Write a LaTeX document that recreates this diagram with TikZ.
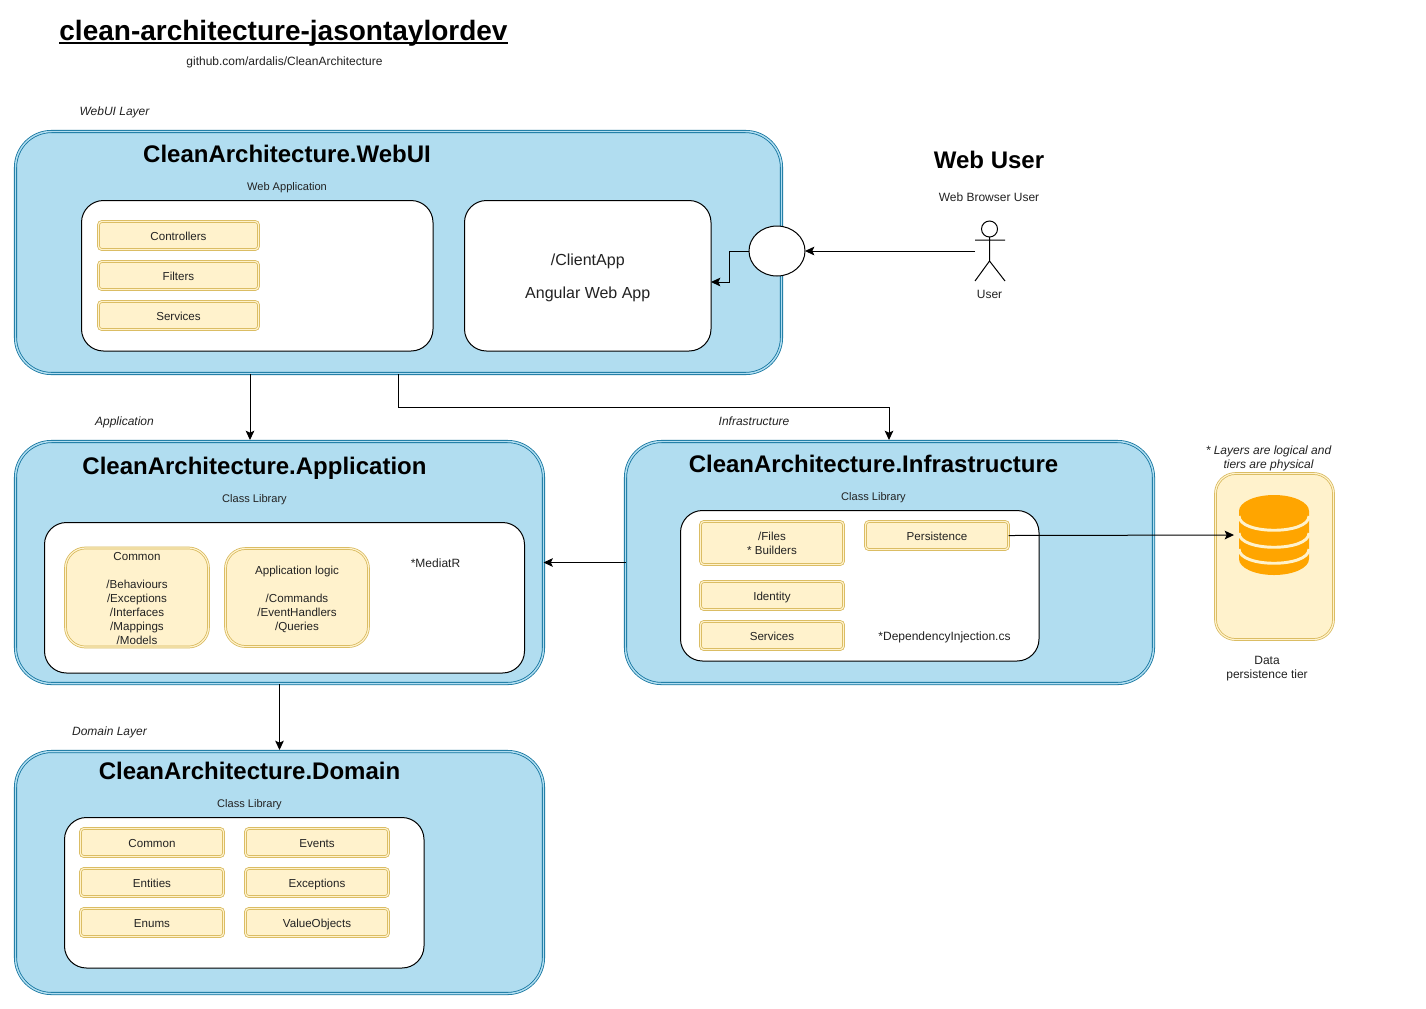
\documentclass[tikz,border=0pt]{standalone}
\usepackage{fontspec}
\setmainfont{Liberation Sans}
\usetikzlibrary{arrows.meta,calc,shapes.geometric}
\definecolor{layerfill}{HTML}{B1DDF0}
\definecolor{layerline}{HTML}{10739E}
\definecolor{boxfill}{HTML}{FFF2CC}
\definecolor{boxline}{HTML}{D6B656}
\definecolor{dbcol}{HTML}{FFA500}
\definecolor{txt}{HTML}{222222}
\newlength{\titlewd}
\newcommand{\pxbox}[7]{%
  \pgfmathsetmacro{\bw}{(#4-#2)*0.75}%
  \pgfmathsetmacro{\bh}{(#5-#3)*0.75}%
  \node[#6,minimum width=\bw pt,minimum height=\bh pt] (#1) at ({(#2+#4)/2},{(#3+#5)/2}) {#7};}
\newcommand{\pxdbl}[7]{%
  \pgfmathsetmacro{\bw}{(#4-#2-1)*0.75}%
  \pgfmathsetmacro{\bh}{(#5-#3-1)*0.75}%
  \node[#6,minimum width=\bw pt,minimum height=\bh pt] (#1) at ({(#2+#4)/2},{(#3+#5)/2}) {#7};}
\newcommand{\tup}{\rule{0pt}{9.3pt}}
\newcommand{\tdn}{\rule[-2pt]{0pt}{2pt}}
\tikzset{
  x=0.75pt,y=-0.75pt,
  every node/.style={inner sep=0pt,outer sep=0pt,align=center,text=txt},
  layer/.style={draw=layerline,double=layerfill,line width=0.6pt,double distance=1.1pt,fill=layerfill,rounded corners=27pt},
  inner/.style={draw=black,line width=0.75pt,fill=white,rounded corners=16.5pt},
  tag/.style={draw=boxline,double=boxfill,line width=0.55pt,double distance=0.9pt,fill=boxfill,rounded corners=2.5pt,font=\fontsize{8.7pt}{10.5pt}\selectfont},
  bigtag/.style={tag,rounded corners=15pt},
  head/.style={font=\fontsize{18pt}{20pt}\selectfont\bfseries,text=black},
  small/.style={font=\fontsize{9pt}{10.5pt}\selectfont,yshift=-0.75pt},
  subhead/.style={font=\fontsize{8.3pt}{10.5pt}\selectfont,yshift=-0.75pt},
  note/.style={font=\fontsize{9pt}{10.5pt}\selectfont\itshape,yshift=-0.75pt},
  link/.style={draw=black,line width=0.75pt,-{Stealth[length=7pt,width=6.5pt,inset=1.5pt]}},
}
\begin{document}
\begin{tikzpicture}
\useasboundingbox[fill=white] (0,0) rectangle (1426,1008);

\node[font=\fontsize{21pt}{24pt}\selectfont\bfseries,text=black] (title) at (283.5,32.8) {\settowidth{\titlewd}{clean-architecture-jasontaylordev}clean-architecture-jasontaylordev\llap{\rule[-3.1pt]{\titlewd}{1.5pt}}};
\node[small] (sub) at (284.5,61) {github.com/ardalis/CleanArchitecture};

% layers
\pxdbl{web}{15}{131}{782}{374}{layer}{}
\pxdbl{app}{15}{441}{544}{684}{layer}{}
\pxdbl{inf}{625}{441}{1154}{684}{layer}{}
\pxdbl{dom}{15}{751}{544}{994}{layer}{}

% layer labels
\node[note] (lweb) at (114.5,111) {WebUI Layer};
\node[note] (lapp) at (124.5,421) {Application};
\node[note] (linf) at (754,420) {Infrastructure};
\node[note] (ldom) at (109.5,731) {Domain Layer};

% headings
\node[head] (hweb) at (287,154) {CleanArchitecture.WebUI};
\node[subhead] (sweb) at (287,187) {Web Application};
\node[head] (happ) at (254.5,468) {CleanArchitecture.Application};
\node[subhead] (sapp) at (254.5,499) {Class Library};
\node[head] (hinf) at (873.5,464) {CleanArchitecture.Infrastructure};
\node[subhead] (sinf) at (873.5,497) {Class Library};
\node[head] (hdom) at (249.5,771) {CleanArchitecture.Domain};
\node[subhead] (sdom) at (249.5,804) {Class Library};

% inner panels
\pxbox{iwebl}{81.5}{200.5}{433}{351}{inner}{}
\pxbox{client}{464.5}{200.5}{711}{351}{inner,font=\fontsize{12pt}{25pt}\selectfont,text=txt}{\rule{0pt}{11.7pt}/ClientApp\\Angular Web App}
\pxbox{iapp}{44.5}{522.5}{524.5}{673}{inner}{}
\pxbox{iinf}{680.5}{510.5}{1039}{661}{inner}{}
\pxbox{idom}{64.5}{817.5}{424}{968}{inner}{}

% WebUI items
\pxdbl{ctl}{98}{221}{259}{250}{tag}{\tup Controllers\tdn}
\pxdbl{flt}{98}{261}{259}{290}{tag}{\tup Filters\tdn}
\pxdbl{svc}{98}{301}{259}{330}{tag}{\tup Services\tdn}

% Application items
\pxdbl{acommon}{65}{548}{209}{647}{bigtag}{\tup Common\\[10.5pt]/Behaviours\\/Exceptions\\/Interfaces\\/Mappings\\/Models\tdn}
\pxdbl{alogic}{225}{548}{369}{647}{bigtag}{\tup Application logic\\[10.5pt]/Commands\\/EventHandlers\\/Queries\tdn}
\node[small] (med) at (435.5,562) {*MediatR};

% Infrastructure items
\pxdbl{files}{700}{521}{844}{565}{tag}{\tup /Files\\* Builders\tdn}
\pxdbl{pers}{865}{521}{1009}{550}{tag}{\tup Persistence\tdn}
\pxdbl{iden}{700}{581}{844}{610}{tag}{\tup Identity\tdn}
\pxdbl{isvc}{700}{621}{844}{650}{tag}{\tup Services\tdn}
\node[small] (di) at (944.5,636) {*DependencyInjection.cs};

% Domain items
\pxdbl{dcom}{80}{828}{224}{857}{tag}{\tup Common\tdn}
\pxdbl{dent}{80}{868}{224}{897}{tag}{\tup Entities\tdn}
\pxdbl{denu}{80}{908}{224}{937}{tag}{\tup Enums\tdn}
\pxdbl{devt}{245}{828}{389}{857}{tag}{\tup Events\tdn}
\pxdbl{dexc}{245}{868}{389}{897}{tag}{\tup Exceptions\tdn}
\pxdbl{dval}{245}{908}{389}{937}{tag}{\tup ValueObjects\tdn}

% data tier
\pxdbl{tier}{1215}{473}{1334}{640}{bigtag}{}
\node[note] (lnote) at (1268.5,457) {* Layers are logical and\\tiers are physical};
\node[small] (ltier) at (1267,668) {Data\\persistence tier};
\fill[dbcol] (1239,511) -- (1239,559) arc[start angle=180,end angle=0,x radius=35,y radius=16] -- (1309,511) -- cycle;
\fill[dbcol] (1274,511) ellipse[x radius=35,y radius=16];
\foreach \yy in {516,533,549}{
  \draw[boxfill,line width=2.2pt] (1239,\yy) .. controls (1239,\yy+19) and (1309,\yy+19) .. (1309,\yy);
}
\coordinate (dbw) at (1234,535);

% entry ellipse
\pxbox{gate}{749}{226}{805}{276}{ellipse,draw=black,line width=0.75pt,fill=white}{}

% actor
\draw[black,line width=0.75pt] (989.5,229) circle[radius=8];
\draw[black,line width=0.75pt] (989.5,237) -- (989.5,261) (975,240) -- (1005,240) (975,281) -- (989.5,261) -- (1005,281);
\coordinate (actor) at (975,251);
\node[small] (luser) at (989.5,293) {User};
\node[font=\fontsize{18pt}{20pt}\selectfont\bfseries,text=black] (huser) at (989,160) {Web User};
\node[small] (suser) at (989,196) {Web Browser User};

% connectors
\coordinate (c1) at (250,374);
\coordinate (c2) at (250,440);
\coordinate (c3) at (398,374);
\coordinate (c4) at (889,440);
\coordinate (c5) at (279.5,684);
\coordinate (c6) at (279.5,750);
\coordinate (c7) at (711,282);
\draw[link] (c1) -- (c2);
\draw[link] (c3) -- (398,407) -- (889,407) -- (c4);
\draw[link] (inf.west) -- (app.east);
\draw[link] (c5) -- (c6);
\draw[link] (pers.east) -- (dbw);
\draw[link] (actor) -- (gate.east);
\draw[link] (gate.west) -- (729,251) -- (729,282) -- (c7);
\end{tikzpicture}
\end{document}
